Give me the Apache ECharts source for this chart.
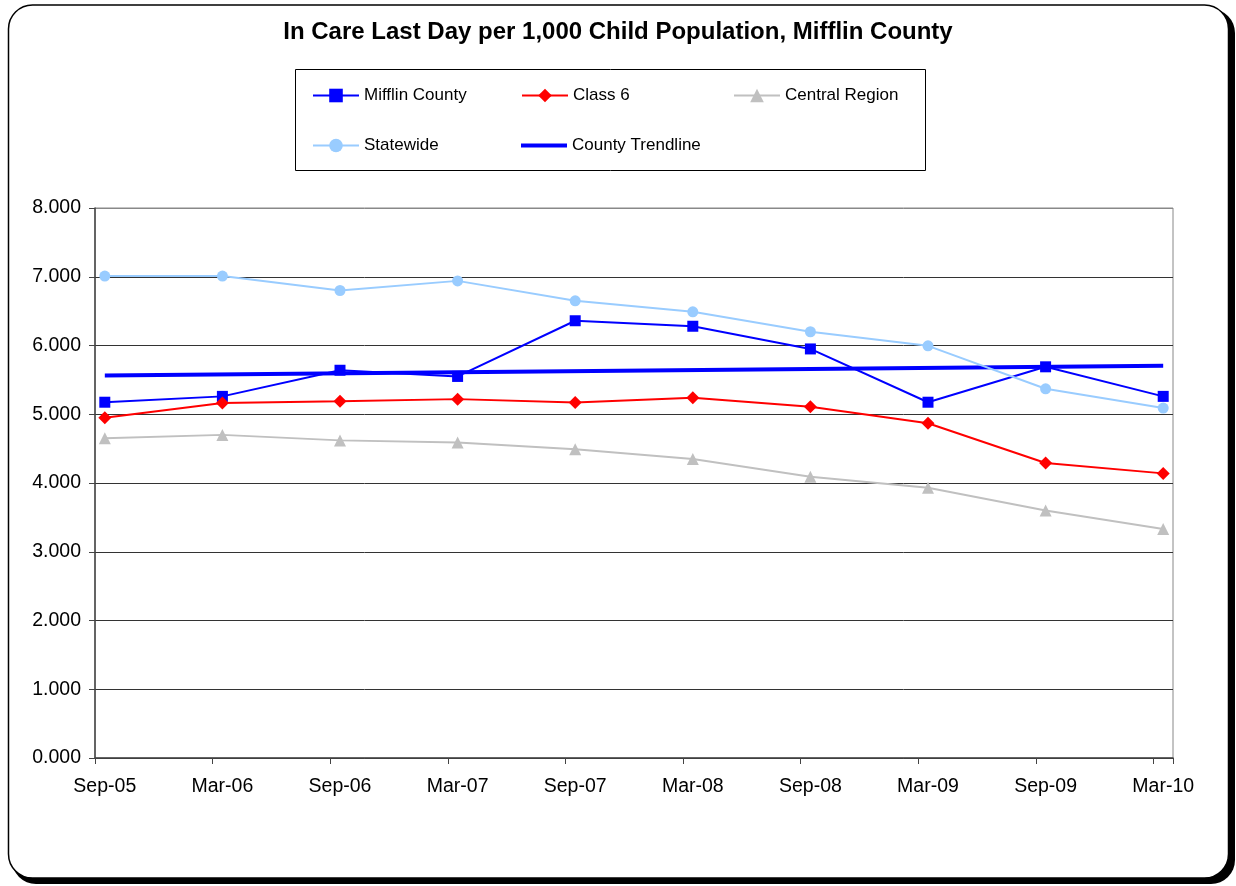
<!DOCTYPE html>
<html>
<head>
<meta charset="utf-8">
<title>In Care Last Day per 1,000 Child Population, Mifflin County</title>
<script src="https://cdn.jsdelivr.net/npm/echarts@6/dist/echarts.min.js"></script>
<style>
  html, body { margin: 0; padding: 0; background: #ffffff; }
  #chart { width: 1236px; height: 886px; }
</style>
</head>
<body>
<div id="chart"></div>
<script>
// Reporting periods (every six months) and the rates per 1,000 children
const periods = ['Sep-05', 'Mar-06', 'Sep-06', 'Mar-07', 'Sep-07', 'Mar-08', 'Sep-08', 'Mar-09', 'Sep-09', 'Mar-10'];
const mifflinCounty = [5.175, 5.26, 5.64, 5.55, 6.36, 6.28, 5.95, 5.175, 5.69, 5.26];
const class6 = [4.95, 5.165, 5.19, 5.22, 5.17, 5.24, 5.11, 4.87, 4.29, 4.14];
const centralRegion = [4.65, 4.70, 4.62, 4.59, 4.49, 4.35, 4.09, 3.93, 3.60, 3.33];
const statewide = [7.01, 7.01, 6.80, 6.94, 6.65, 6.49, 6.20, 5.995, 5.37, 5.09];
const yTicks = { min: 0, max: 8, step: 1 };

const FONT = '"Liberation Sans", Arial, sans-serif';
const MONTHS_PER_PERIOD = 6;
const MONTH_NAMES = ['Jan', 'Feb', 'Mar', 'Apr', 'May', 'Jun', 'Jul', 'Aug', 'Sep', 'Oct', 'Nov', 'Dec'];

// Monthly date axis: one band per month from the first to the last period
const startMonth = MONTH_NAMES.indexOf(periods[0].slice(0, 3));
const startYear = 2000 + parseInt(periods[0].slice(4), 10);
const monthCount = (periods.length - 1) * MONTHS_PER_PERIOD + 1;
const months = [];
for (let i = 0; i < monthCount; i++) {
  const m = (startMonth + i) % 12;
  const y = startYear + Math.floor((startMonth + i) / 12);
  months.push(MONTH_NAMES[m] + '-' + String(y % 100).padStart(2, '0'));
}

const toPoints = (vals) => vals.map((v, i) => [i * MONTHS_PER_PERIOD, v]);

// Least-squares linear trend of the county series
function linearTrend(vals) {
  const n = vals.length;
  const xs = vals.map((_, i) => i * MONTHS_PER_PERIOD);
  const mx = xs.reduce((a, b) => a + b, 0) / n;
  const my = vals.reduce((a, b) => a + b, 0) / n;
  let sxy = 0, sxx = 0;
  xs.forEach((x, i) => { sxy += (x - mx) * (vals[i] - my); sxx += (x - mx) * (x - mx); });
  const slope = sxy / sxx;
  const icpt = my - slope * mx;
  const x0 = xs[0], x1 = xs[n - 1];
  return [[x0, icpt + slope * x0], [x1, icpt + slope * x1]];
}

const chart = echarts.init(document.getElementById('chart'), null, { renderer: 'canvas' });

const lineSeries = (name, data, color, symbol, size) => ({
  name: name,
  type: 'line',
  data: toPoints(data),
  symbol: symbol,
  symbolSize: size,
  showSymbol: true,
  lineStyle: { color: color, width: 2 },
  itemStyle: { color: color },
  emphasis: { disabled: true },
  z: 3
});

// One legend block per entry so the entries sit in fixed columns
const legendEntry = (name, left, top, extra) => Object.assign({
  data: [name],
  left: left, top: top,
  itemWidth: 46, itemHeight: 17, itemGap: 0,
  padding: 0,
  selectedMode: false,
  textStyle: { fontFamily: FONT, fontSize: 17, color: '#000' }
}, extra || {});

const option = {
  animation: false,
  backgroundColor: 'transparent',
  title: {
    text: 'In Care Last Day per 1,000 Child Population, Mifflin County',
    left: 'center',
    top: 15,
    textStyle: { fontFamily: FONT, fontSize: 24, fontWeight: 'bold', color: '#000' }
  },
  graphic: [
    {
      // drop shadow of the chart frame
      type: 'rect',
      z: -20,
      silent: true,
      shape: { x: 12, y: 9, width: 1223, height: 875, r: 24 },
      style: { fill: '#000' }
    },
    {
      type: 'rect',
      z: -10,
      silent: true,
      shape: { x: 8.5, y: 5, width: 1220, height: 873, r: 24 },
      style: { fill: '#fff', stroke: '#000', lineWidth: 1.5 }
    },
    {
      type: 'rect',
      z: -5,
      silent: true,
      shape: { x: 295.5, y: 69.5, width: 630, height: 101 },
      style: { fill: '#fff', stroke: '#000', lineWidth: 1 }
    }
  ],
  legend: [
    legendEntry('Mifflin County', 312, 87),
    legendEntry('Class 6', 521, 87),
    legendEntry('Central Region', 733, 87),
    legendEntry('Statewide', 312, 137),
    legendEntry('County Trendline', 521, 137, { icon: 'rect', itemHeight: 4 })
  ],
  grid: {
    left: 95, right: 63, top: 208, bottom: 128,
    show: true, borderColor: '#888', borderWidth: 1, backgroundColor: 'transparent'
  },
  xAxis: {
    type: 'category',
    data: months,
    boundaryGap: true,
    axisLine: { lineStyle: { color: '#444', width: 1.5 } },
    axisTick: { show: true, interval: MONTHS_PER_PERIOD - 1, length: 6, lineStyle: { color: '#444' } },
    axisLabel: {
      interval: MONTHS_PER_PERIOD - 1,
      margin: 19,
      fontFamily: FONT, fontSize: 19.5, color: '#000'
    },
    splitLine: { show: false }
  },
  yAxis: {
    type: 'value',
    min: yTicks.min, max: yTicks.max, interval: yTicks.step,
    axisLine: { show: true, lineStyle: { color: '#444', width: 1.5 } },
    axisTick: { show: true, length: 6, lineStyle: { color: '#444' } },
    axisLabel: {
      margin: 14,
      fontFamily: FONT, fontSize: 19.5, color: '#000',
      formatter: (v) => v.toFixed(3)
    },
    splitLine: {
      show: true,
      lineStyle: { color: ['#333', '#333', '#333', '#333', '#333', '#333', '#333', '#333', '#888'], width: 1 }
    }
  },
  series: [
    lineSeries('Mifflin County', mifflinCounty, '#0000ff', 'rect', 11),
    lineSeries('Class 6', class6, '#ff0000', 'diamond', 13),
    lineSeries('Central Region', centralRegion, '#c0c0c0', 'triangle', 12),
    lineSeries('Statewide', statewide, '#99ccff', 'circle', 11),
    {
      name: 'County Trendline',
      type: 'line',
      data: linearTrend(mifflinCounty),
      symbol: 'none',
      lineStyle: { color: '#0000ff', width: 4 },
      itemStyle: { color: '#0000ff' },
      emphasis: { disabled: true },
      z: 2
    }
  ]
};

chart.setOption(option);
</script>
</body>
</html>
